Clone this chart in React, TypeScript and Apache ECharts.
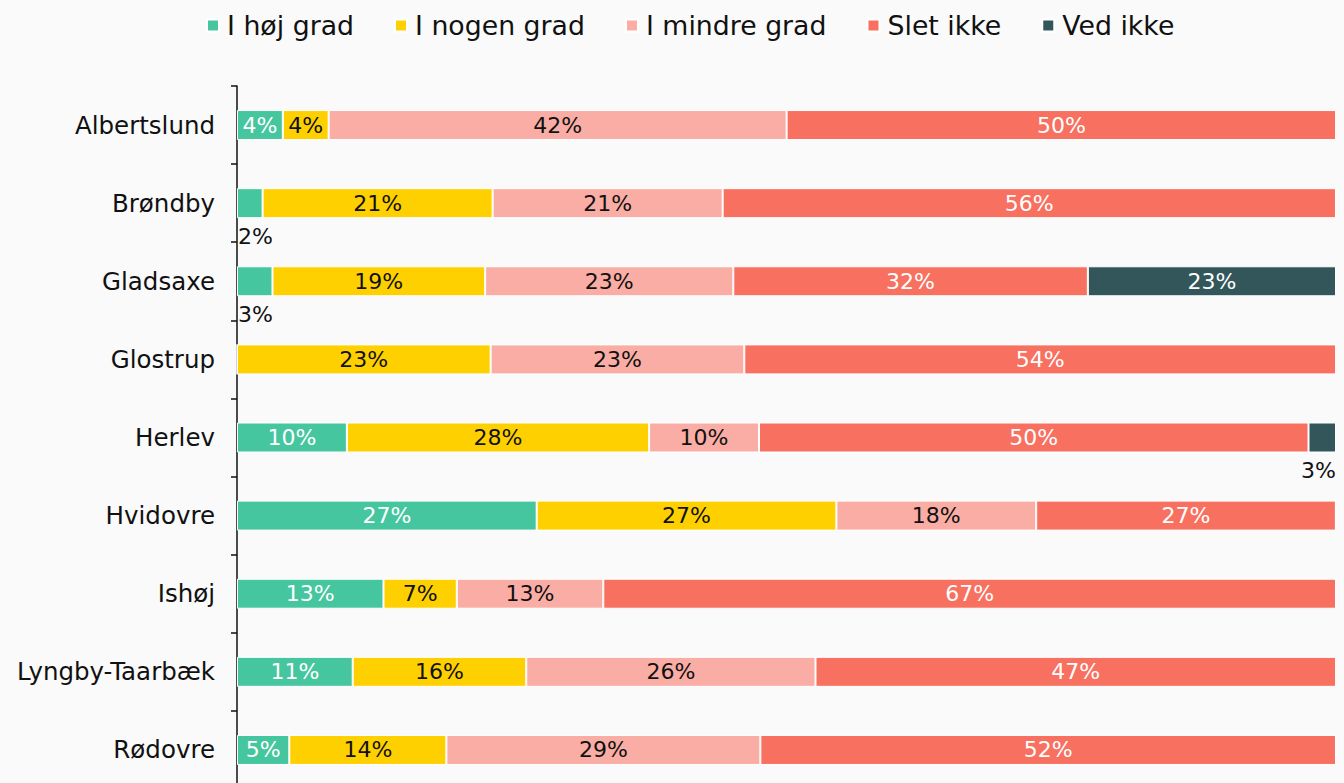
import React, { useEffect, useRef } from "react";
import * as echarts from "echarts";

const categories = ["Albertslund", "Brøndby", "Gladsaxe", "Glostrup", "Herlev", "Hvidovre", "Ishøj", "Lyngby-Taarbæk", "Rødovre"];
const seriesNames = ["I høj grad", "I nogen grad", "I mindre grad", "Slet ikke", "Ved ikke"];
const hoejGrad = [4.17, 2.33, 3.23, 0, 10, 27.27, 13.33, 10.53, 4.76];
const nogenGrad = [4.17, 20.93, 19.35, 23.08, 27.5, 27.27, 6.67, 15.79, 14.29];
const mindreGrad = [41.67, 20.93, 22.58, 23.08, 10, 18.18, 13.33, 26.32, 28.57];
const sletIkke = [50, 55.81, 32.26, 53.85, 50, 27.27, 66.67, 47.37, 52.38];
const vedIkke = [0, 0, 22.58, 0, 2.5, 0, 0, 0, 0];
const colors = ["#46c69e", "#ffd000", "#faada4", "#f77060", "#33565b"];
const labelColors = ["#ffffff", "#111111", "#111111", "#ffffff", "#ffffff"];

const FONT = "DejaVu Sans, Verdana, sans-serif";

export default function App() {
  const ref = useRef<HTMLDivElement>(null);
  useEffect(() => {
    document.body.style.margin = "0";
    document.body.style.overflow = "hidden";
    const chart = echarts.init(ref.current!, null, { renderer: "svg" });
    const allData = [hoejGrad, nogenGrad, mindreGrad, sletIkke, vedIkke];
    const series = allData.map((arr, si) => ({
      name: seriesNames[si],
      type: "bar",
      stack: "total",
      barWidth: 30,
      itemStyle: { color: colors[si], borderColor: "#ffffff", borderWidth: 1 },
      data: arr.map((v) => {
        const item: any = { value: v };
        if (v <= 0) {
          item.label = { show: false };
        } else if (v < 3.5) {
          const last = si === allData.length - 1;
          item.label = {
            show: true,
            position: [last ? "100%" : 1, 37],
            align: last ? "right" : "left",
            verticalAlign: "top",
            color: "#111111",
          };
        }
        return item;
      }),
      label: {
        show: true,
        position: "inside",
        color: labelColors[si],
        fontSize: 22,
        fontFamily: FONT,
        formatter: (p: any) => Math.round(p.value) + "%",
      },
    }));
    chart.setOption({
      animation: false,
      backgroundColor: "#fafafa",
      textStyle: { fontFamily: FONT },
      legend: {
        top: 12,
        left: 206,
        padding: 0,
        itemWidth: 12,
        itemHeight: 12,
        itemGap: 40,
        icon: "rect",
        textStyle: { fontSize: 26.75, color: "#111111", fontFamily: FONT, padding: [0, 0, 0, 3] },
        data: seriesNames,
      },
      grid: { left: 237, right: 8, top: 86, bottom: 0, containLabel: false },
      xAxis: { type: "value", min: 0, max: 100, show: false },
      yAxis: {
        type: "category",
        inverse: true,
        data: categories,
        axisLine: { show: true, lineStyle: { color: "#111111", width: 1.5 } },
        axisTick: { show: true, length: 6, lineStyle: { color: "#111111", width: 1.5 } },
        axisLabel: { fontSize: 24.5, color: "#111111", margin: 22, fontFamily: FONT },
      },
      series,
    });
    return () => chart.dispose();
  }, []);
  return <div ref={ref} style={{ width: 1344, height: 789 }} />;
}
